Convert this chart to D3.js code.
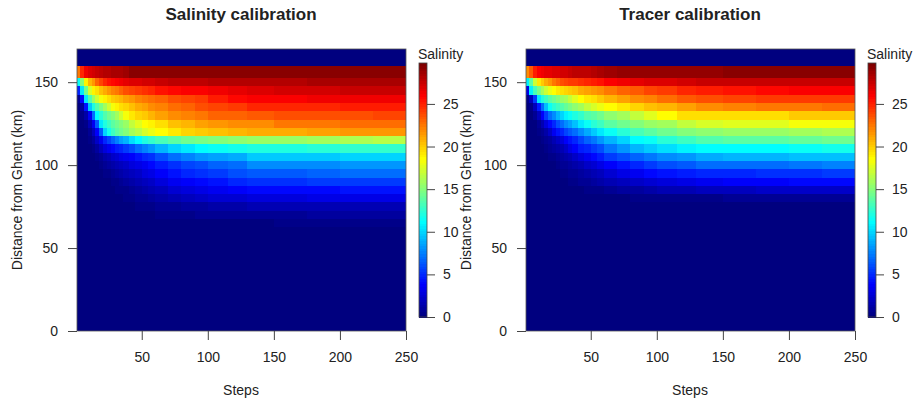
<!DOCTYPE html>
<html>
<head>
<meta charset="utf-8">
<script src="https://cdn.jsdelivr.net/npm/d3@7"></script>
<style>
    html, body { margin: 0; padding: 0; background: #fff; }
    svg { display: block; }
    text { font-family: "Liberation Sans", sans-serif; fill: #222; }
</style>
</head>
<body>
<div id="chart"></div>
<script>
// step at which each column ends (first column starts at step 1)
var stepEnds = [3, 6, 9, 12, 15, 18, 21, 24, 27, 30, 33, 36, 40, 45, 50, 55, 60, 70, 80, 90, 100, 115, 130, 150, 175, 200, 225, 250];

// km edges of the rows, top to bottom
var rowEdges = [160, 152.5, 147.5, 142.5, 137.5, 132.5, 127.5, 122.5, 117.5, 112.5, 107.5, 102.5, 97.5, 92.5, 87.5, 82.5, 77.5, 72.5, 67.5, 62.5, 57.5];

var salinityRows = [
    [22.5, 25, 26.5, 27, 27.4, 27.7, 27.9, 28.1, 28.3, 28.4, 28.5, 28.6, 28.8, 29.3, 29.4, 29.4, 29.4, 29.4, 29.4, 29.4, 29.4, 29.4, 29.5, 29.5, 29.5, 29.5, 29.5, 29.5],
    [11.5, 15, 19, 20.7, 21.7, 23, 24, 25, 25.5, 25.8, 26.1, 26.3, 26.6, 26.9, 27.1, 27.3, 27.4, 27.6, 27.8, 27.9, 28, 28.1, 28.2, 28.3, 28.3, 28.4, 28.4, 28.4],
    [5, 10.5, 14.5, 17.3, 18.8, 19.6, 20.4, 21, 21.5, 22.1, 22.6, 23.1, 23.6, 24, 24.4, 24.7, 25, 25.4, 25.7, 26, 26.2, 26.5, 26.8, 27, 27.2, 27.4, 27.5, 27.5],
    [0.6, 4, 10.5, 13.5, 15.5, 17, 18.3, 19, 19.6, 20, 20.4, 20.8, 21.2, 21.7, 22.1, 22.5, 22.8, 23.2, 23.6, 24, 24.4, 25.3, 25.7, 26, 26.2, 26.3, 26.3, 26.4],
    [0.1, 1, 4.3, 9.8, 12.2, 13.6, 14.8, 16, 17, 18.2, 18.9, 19.4, 19.9, 20.5, 21, 21.4, 21.8, 22.3, 22.8, 23.2, 23.6, 24, 24.4, 24.9, 25, 25, 25.1, 25.2],
    [0, 0.3, 1.2, 3.3, 7, 11.2, 12.5, 13.6, 14.4, 15, 16, 17, 18.3, 19.1, 19.7, 20.2, 20.7, 21.2, 21.8, 22.2, 22.6, 23, 23.2, 23.3, 23.6, 23.7, 23.8, 23.9],
    [0, 0.1, 0.5, 1.5, 3.3, 6.5, 10.5, 12, 13, 13.8, 14.4, 15, 15.6, 16.8, 17.6, 18.5, 19, 19.6, 20.3, 20.8, 21.2, 21.5, 21.8, 22, 22.5, 22.6, 22.7, 22.8],
    [0, 0, 0.2, 0.8, 2, 3.8, 6.5, 10, 11.8, 13, 13.8, 14.4, 15, 15.8, 16.6, 17.4, 18, 18.7, 19.2, 19.7, 20.1, 20.4, 20.7, 21, 21.1, 21.2, 21.6, 21.7],
    [0, 0, 0.1, 0.3, 1, 2.2, 3.5, 4.8, 5.8, 6.8, 7.6, 8.5, 9.2, 10.2, 11.2, 12, 12.6, 13.2, 13.8, 14.4, 14.8, 15.1, 15.4, 15.6, 15.7, 15.8, 16.2, 16.4],
    [0, 0, 0, 0.1, 0.4, 1, 1.8, 2.8, 3.5, 4, 4.5, 5, 5.4, 6.2, 6.9, 7.5, 8.2, 9.2, 10, 10.6, 11.2, 11.5, 11.8, 12, 12.1, 12.3, 12.6, 12.7],
    [0, 0, 0, 0, 0.1, 0.3, 0.7, 1.2, 1.7, 2.1, 2.6, 3, 3.3, 3.8, 4.2, 4.8, 5.3, 6.2, 6.9, 7.5, 8.1, 8.4, 8.7, 9.6, 9.7, 9.8, 9.9, 10],
    [0, 0, 0, 0, 0, 0.1, 0.3, 0.6, 0.9, 1.2, 1.6, 1.9, 2.2, 2.7, 3.1, 3.5, 3.9, 4.6, 5.3, 5.8, 6.2, 6.6, 7, 7.8, 7.9, 8, 8.1, 8.2],
    [0, 0, 0, 0, 0, 0, 0.1, 0.3, 0.5, 0.7, 0.9, 1.2, 1.5, 1.9, 2.3, 2.7, 3, 3.6, 4.2, 4.8, 5.2, 5.6, 6, 6.3, 6.5, 6.8, 6.9, 7],
    [0, 0, 0, 0, 0, 0, 0, 0.1, 0.2, 0.3, 0.5, 0.7, 0.9, 1.3, 1.6, 1.9, 2.3, 2.8, 3.3, 3.8, 4.1, 4.4, 4.8, 5.1, 5.3, 5.4, 5.5, 5.6],
    [0, 0, 0, 0, 0, 0, 0, 0, 0.1, 0.2, 0.3, 0.4, 0.5, 0.8, 1, 1.2, 1.5, 1.9, 2.4, 2.8, 3.2, 3.5, 3.8, 4, 4.1, 4.1, 4.2, 4.3],
    [0, 0, 0, 0, 0, 0, 0, 0, 0, 0.1, 0.1, 0.2, 0.3, 0.4, 0.6, 0.7, 0.9, 1.2, 1.5, 1.8, 2.1, 2.4, 2.6, 2.8, 2.9, 3, 3, 3],
    [0, 0, 0, 0, 0, 0, 0, 0, 0, 0, 0.1, 0.1, 0.1, 0.2, 0.3, 0.4, 0.5, 0.6, 0.8, 1, 1.1, 1.3, 1.4, 1.5, 1.6, 1.6, 1.6, 1.6],
    [0, 0, 0, 0, 0, 0, 0, 0, 0, 0, 0, 0, 0, 0.1, 0.1, 0.2, 0.2, 0.3, 0.4, 0.5, 0.6, 0.7, 0.8, 0.8, 0.8, 0.9, 0.9, 0.9],
    [0, 0, 0, 0, 0, 0, 0, 0, 0, 0, 0, 0, 0, 0, 0, 0, 0, 0, 0.1, 0.1, 0.1, 0.2, 0.2, 0.2, 0.3, 0.3, 0.3, 0.3],
    [0, 0, 0, 0, 0, 0, 0, 0, 0, 0, 0, 0, 0, 0, 0, 0, 0, 0, 0, 0, 0, 0, 0.1, 0.1, 0.1, 0.1, 0.1, 0.1]
];

var tracerRows = [
    [22, 23.5, 25.2, 26, 26.3, 26.6, 26.8, 27, 27.1, 27.3, 27.4, 27.6, 27.8, 27.9, 28, 28.2, 28.4, 28.8, 29, 29, 29.1, 29.1, 29.1, 29.1, 29.45, 29.5, 29.5, 29.5],
    [10.8, 14, 17, 19.2, 20.2, 20.9, 21.7, 22.6, 23.2, 23.6, 24, 24.2, 24.4, 24.7, 25, 25.3, 25.6, 26, 26.4, 26.7, 26.9, 27.1, 27.3, 27.5, 27.6, 27.6, 27.7, 27.7],
    [3, 11, 13.2, 14.8, 16, 17, 18, 18.7, 19.1, 19.5, 19.9, 20.2, 20.5, 20.9, 21.3, 21.7, 22, 22.5, 23, 23.5, 23.9, 24.4, 24.9, 25.3, 25.6, 25.8, 26.1, 26.2],
    [0.3, 1.8, 5.5, 10.5, 12, 13, 13.8, 14.4, 15, 15.5, 16, 16.7, 17.6, 18.7, 19.1, 19.6, 20, 20.6, 21.2, 21.8, 22.2, 22.7, 23.3, 23.7, 24, 24.2, 24.3, 24.3],
    [0, 0.4, 1.8, 4.5, 7, 9.5, 11.4, 12.3, 13, 13.6, 14.2, 14.8, 15.3, 16, 16.7, 17.5, 18, 18.7, 19.3, 19.8, 20.3, 20.8, 21.3, 21.9, 22.3, 22.4, 22.6, 22.8],
    [0, 0.1, 0.6, 1.8, 3.7, 5.5, 7, 8, 9, 10, 10.8, 11.4, 12, 12.8, 13.5, 14, 14.5, 15.2, 16, 16.8, 17.7, 18.7, 19.4, 19.6, 19.6, 19.6, 20, 20.1],
    [0, 0, 0.2, 0.7, 1.5, 2.8, 4, 5, 6, 7, 7.8, 8.6, 9.3, 10.6, 11.4, 12.3, 12.9, 13.8, 14.5, 15, 15.5, 16, 16.8, 17.3, 17.7, 17.8, 18.2, 18.3],
    [0, 0, 0.1, 0.3, 0.7, 1.3, 2.2, 3.5, 4.3, 5, 5.7, 6.4, 7, 7.9, 8.7, 9.7, 10.5, 11.5, 12.5, 13.2, 13.8, 14.4, 14.9, 15.2, 15.5, 15.6, 16, 16.1],
    [0, 0, 0, 0.1, 0.3, 0.6, 1, 1.6, 2.3, 2.9, 3.6, 4.2, 4.8, 5.8, 6.6, 7.4, 8.1, 9, 10, 11.2, 11.6, 12.4, 13, 13.5, 13.8, 14, 14.2, 14.4],
    [0, 0, 0, 0, 0.1, 0.3, 0.6, 0.9, 1.2, 1.7, 2.3, 3, 3.7, 4.5, 5, 5.6, 6.2, 7.2, 8.1, 9, 9.6, 10.2, 10.9, 11.2, 11.2, 11.3, 11.6, 11.7],
    [0, 0, 0, 0, 0, 0.1, 0.3, 0.5, 0.7, 1, 1.3, 1.7, 2.1, 2.8, 3.4, 4, 4.6, 5.4, 6, 6.8, 7.4, 7.9, 8.3, 8.8, 9, 9.2, 9.4, 9.5],
    [0, 0, 0, 0, 0, 0, 0.1, 0.2, 0.4, 0.6, 0.8, 1, 1.3, 1.7, 2.1, 2.5, 3, 3.7, 4.2, 4.9, 5.4, 6, 6.5, 6.9, 7, 7.1, 7.4, 7.5],
    [0, 0, 0, 0, 0, 0, 0, 0.1, 0.2, 0.3, 0.4, 0.6, 0.8, 1.1, 1.4, 1.7, 2, 2.5, 3, 3.5, 3.9, 4.3, 4.6, 4.9, 5, 5.1, 5.3, 5.4],
    [0, 0, 0, 0, 0, 0, 0, 0, 0.1, 0.1, 0.2, 0.3, 0.4, 0.6, 0.8, 1, 1.2, 1.5, 1.9, 2.2, 2.5, 2.8, 3.1, 3.4, 3.6, 3.7, 3.9, 4],
    [0, 0, 0, 0, 0, 0, 0, 0, 0, 0, 0, 0.1, 0.1, 0.2, 0.3, 0.4, 0.5, 0.7, 0.9, 1.1, 1.3, 1.5, 1.7, 1.9, 2, 2.1, 2.2, 2.3],
    [0, 0, 0, 0, 0, 0, 0, 0, 0, 0, 0, 0, 0, 0, 0.1, 0.1, 0.1, 0.2, 0.2, 0.3, 0.3, 0.4, 0.5, 0.5, 0.6, 0.6, 0.7, 0.7],
    [0, 0, 0, 0, 0, 0, 0, 0, 0, 0, 0, 0, 0, 0, 0, 0, 0, 0, 0, 0, 0.1, 0.1, 0.1, 0.1, 0.2, 0.2, 0.2, 0.2],
    [0, 0, 0, 0, 0, 0, 0, 0, 0, 0, 0, 0, 0, 0, 0, 0, 0, 0, 0, 0, 0, 0, 0, 0, 0, 0, 0, 0],
    [0, 0, 0, 0, 0, 0, 0, 0, 0, 0, 0, 0, 0, 0, 0, 0, 0, 0, 0, 0, 0, 0, 0, 0, 0, 0, 0, 0],
    [0, 0, 0, 0, 0, 0, 0, 0, 0, 0, 0, 0, 0, 0, 0, 0, 0, 0, 0, 0, 0, 0, 0, 0, 0, 0, 0, 0]
];

var stepTicks = [50, 100, 150, 200, 250];
var kmTicks = [0, 50, 100, 150];
var salinityTicks = [0, 5, 10, 15, 20, 25];
var jetStops = ["#00007F", "#0000FF", "#007FFF", "#00FFFF", "#7FFF7F", "#FFFF00", "#FF7F00", "#FF0000", "#7F0000"];

var width = 914, height = 402;
var zMax = 29.8, nColors = 100;
var axisColor = "#444";

// jet ramp cut into 100 flat colours like an image palette
var ramp = d3.scaleLinear()
    .domain(jetStops.map((c, i) => i / (jetStops.length - 1)))
    .range(jetStops)
    .interpolate(d3.interpolateRgb);

function levelColor(level){
    return ramp(level / (nColors - 1));
}

function valueColor(v){
    return levelColor(Math.min(nColors - 1, Math.floor(v / zMax * nColors)));
}

var svg = d3.select("#chart").append("svg")
    .attr("width", width)
    .attr("height", height);

function styleAxis(g){
    g.selectAll("path, line").attr("stroke", axisColor).attr("stroke-width", 1);
    g.selectAll("text").style("font-size", "14px").attr("fill", "#222");
}

function drawPanel(title, rows, offset){
    var x = d3.scaleLinear().domain([1, 250]).range([77 + offset, 406 + offset]);
    var y = d3.scaleLinear().domain([0, 170]).range([331, 49]);
    var zBar = d3.scaleLinear().domain([0, zMax]).range([317, 63]);

    var panel = svg.append("g");

    // navy ground for the zero part of the field
    panel.append("rect")
        .attr("x", x(1))
        .attr("y", y(170))
        .attr("width", x(250) - x(1))
        .attr("height", y(0) - y(170))
        .attr("fill", valueColor(0));

    // heat cells
    rows.forEach((row, r) => {
        panel.append("g")
            .attr("shape-rendering", "crispEdges")
            .selectAll("rect")
            .data(row)
            .enter()
            .append("rect")
            .attr("x", (d, i) => x(i == 0 ? 1 : stepEnds[i - 1]))
            .attr("y", y(rowEdges[r]))
            .attr("width", (d, i) => x(stepEnds[i]) - x(i == 0 ? 1 : stepEnds[i - 1]))
            .attr("height", y(rowEdges[r + 1]) - y(rowEdges[r]))
            .attr("fill", d => valueColor(d));
    });

    // box
    panel.append("rect")
        .attr("x", x(1))
        .attr("y", y(170))
        .attr("width", x(250) - x(1))
        .attr("height", y(0) - y(170))
        .attr("fill", "none")
        .attr("stroke", "#555")
        .attr("stroke-width", 0.8);

    // axes
    panel.append("g")
        .attr("transform", `translate(0,${y(0)})`)
        .call(d3.axisBottom(x).tickValues(stepTicks).tickSize(9).tickSizeOuter(0).tickPadding(12))
        .call(styleAxis)
        .call(g => g.select(".domain").remove());

    panel.append("g")
        .attr("transform", `translate(${x(1)},0)`)
        .call(d3.axisLeft(y).tickValues(kmTicks).tickSize(9).tickSizeOuter(0).tickPadding(10))
        .call(styleAxis)
        .call(g => g.select(".domain").remove());

    // titles
    panel.append("text")
        .attr("x", 241 + offset)
        .attr("y", 20)
        .attr("text-anchor", "middle")
        .style("font-size", "17px")
        .style("font-weight", "bold")
        .attr("fill", "#000")
        .text(title);

    panel.append("text")
        .attr("x", 241 + offset)
        .attr("y", 395)
        .attr("text-anchor", "middle")
        .style("font-size", "14px")
        .text("Steps");

    panel.append("text")
        .attr("transform", `translate(${22 + offset},190) rotate(-90)`)
        .attr("text-anchor", "middle")
        .style("font-size", "14px")
        .text("Distance from Ghent (km)");

    // colour bar
    var barX = 419 + offset, barW = 8;
    panel.append("g")
        .attr("shape-rendering", "crispEdges")
        .selectAll("rect")
        .data(d3.range(nColors))
        .enter()
        .append("rect")
        .attr("x", barX)
        .attr("y", d => zBar((d + 1) / nColors * zMax))
        .attr("width", barW)
        .attr("height", d => zBar(d / nColors * zMax) - zBar((d + 1) / nColors * zMax) + 0.5)
        .attr("fill", d => levelColor(d));

    panel.append("rect")
        .attr("x", barX)
        .attr("y", zBar(zMax))
        .attr("width", barW)
        .attr("height", zBar(0) - zBar(zMax))
        .attr("fill", "none")
        .attr("stroke", "#444")
        .attr("stroke-width", 0.8);

    panel.append("g")
        .attr("transform", `translate(${barX + barW},0)`)
        .call(d3.axisRight(zBar).tickValues(salinityTicks).tickSize(8).tickSizeOuter(0).tickPadding(8))
        .call(styleAxis)
        .call(g => g.select(".domain").remove());

    panel.append("text")
        .attr("x", barX - 1)
        .attr("y", 59)
        .style("font-size", "14px")
        .text("Salinity");
}

drawPanel("Salinity calibration", salinityRows, 0);
drawPanel("Tracer calibration", tracerRows, 449);
</script>
</body>
</html>
